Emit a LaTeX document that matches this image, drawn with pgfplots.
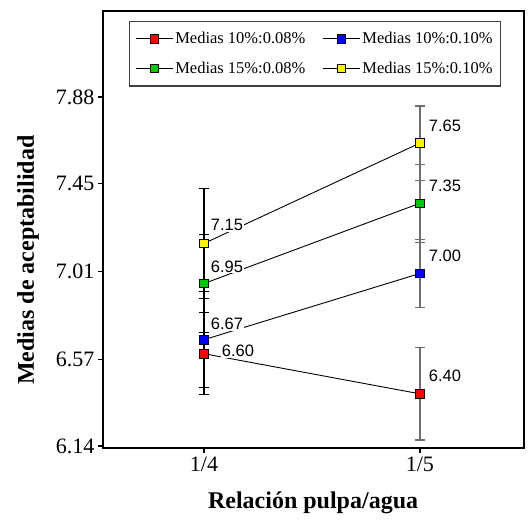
\documentclass[border=0pt]{standalone}
\usepackage{fontspec}
\setmainfont{Liberation Serif}
\newfontfamily\arial{Liberation Sans}
\usepackage{pgfplots}
\usepackage{pgfplotstable}
\pgfplotsset{compat=1.18}
\definecolor{cgreen}{RGB}{0,200,0}
\definecolor{errgray}{RGB}{110,110,110}

% errors at each ratio: x, mean, half-width
\pgfplotstableread{
x y e
0 7.15 0.275
0 6.95 0.245
0 6.67 0.24
0 6.60 0.205
}\errA
\pgfplotstableread{
x y e
1 7.65 0.185
1 7.35 0.195
1 7.00 0.17
1 6.40 0.23
}\errB

\begin{document}
\begin{tikzpicture}
\begin{axis}[
    name=ax,
    scale only axis,
    width=421bp, height=437bp,
    xmin=-0.468, xmax=1.482,
    ymin=6.13, ymax=8.3085,
    xtick={0,1}, xticklabels={1/4,1/5},
    ytick={6.14,6.57,7.01,7.45,7.88},
    yticklabels={6.14,6.57,7.01,7.45,7.88},
    xtick pos=bottom, ytick pos=left,
    tick align=outside,
    major tick length=5bp,
    axis line style={line width=1.8bp},
    every tick/.style={black, line width=1.2bp},
    /pgf/number format/assume math mode=true,
    tick label style={font=\fontsize{22bp}{26bp}\selectfont},
    label style={font=\bfseries\fontsize{24bp}{28bp}\selectfont},
    xlabel={Relación pulpa/agua},
    ylabel={Medias de aceptabilidad},
    xlabel style={at={(axis description cs:0.499,-0.126)}, anchor=center},
    ylabel style={at={(axis description cs:-0.178,0.43)}, anchor=center},
    legend columns=2,
    legend cell align=left,
    legend style={at={(axis description cs:0.061,0.978)}, anchor=north west,
        draw=black!75, line width=1.2bp,
        font=\fontsize{16.5bp}{19bp}\selectfont,
        inner xsep=6bp, inner ysep=9bp,
        row sep=13bp,
        /tikz/every even column/.append style={column sep=15bp}},
    legend image code/.code={\draw[mark repeat=2,mark phase=2, line width=1bp]
        plot coordinates {(0bp,0bp)(18.5bp,0bp)(37bp,0bp)};},
]
\addplot[forget plot, only marks, mark=none,
    error bars/.cd, y dir=both, y explicit,
    error bar style={black, line width=1.3bp},
    error mark options={rotate=90, mark size=5bp, black, line width=1.3bp}]
    table[x=x, y=y, y error=e] {\errA};
\addplot[forget plot, only marks, mark=none,
    error bars/.cd, y dir=both, y explicit,
    error bar style={errgray, line width=1.3bp},
    error mark options={rotate=90, mark size=5bp, errgray, line width=1.3bp}]
    table[x=x, y=y, y error=e] {\errB};

\addplot[black, line width=0.9bp, mark=square*, mark size=4.3bp,
    mark options={fill=red, draw=black, line width=0.9bp}]
    coordinates {(0,6.60) (1,6.40)};
\addlegendentry{Medias 10\%:0.08\%}
\addplot[black, line width=0.9bp, mark=square*, mark size=4.3bp,
    mark options={fill=blue, draw=black, line width=0.9bp}]
    coordinates {(0,6.67) (1,7.00)};
\addlegendentry{Medias 10\%:0.10\%}
\addplot[black, line width=0.9bp, mark=square*, mark size=4.3bp,
    mark options={fill=cgreen, draw=black, line width=0.9bp}]
    coordinates {(0,6.95) (1,7.35)};
\addlegendentry{Medias 15\%:0.08\%}
\addplot[black, line width=0.9bp, mark=square*, mark size=4.3bp,
    mark options={fill=yellow, draw=black, line width=0.9bp}]
    coordinates {(0,7.15) (1,7.65)};
\addlegendentry{Medias 15\%:0.10\%}

\begin{scope}[every node/.style={fill=white, inner sep=1bp,
        font=\arial\fontsize{16.5bp}{19bp}\selectfont}]
\node at (axis cs:0,7.15) [xshift=23bp, yshift=18bp] {7.15};
\node at (axis cs:0,6.95) [xshift=23bp, yshift=17bp] {6.95};
\node at (axis cs:0,6.67) [xshift=23bp, yshift=16bp] {6.67};
\node at (axis cs:0,6.60) [xshift=34bp, yshift=3bp] {6.60};
\node at (axis cs:1,7.65) [xshift=25bp, yshift=17bp] {7.65};
\node at (axis cs:1,7.35) [xshift=25bp, yshift=17bp] {7.35};
\node at (axis cs:1,7.00) [xshift=25bp, yshift=18bp] {7.00};
\node at (axis cs:1,6.40) [xshift=25bp, yshift=18bp] {6.40};
\end{scope}
\end{axis}
\pgfresetboundingbox
\path ([shift={(-103bp,-75bp)}]ax.south west) rectangle ([shift={(4bp,11bp)}]ax.north east);
\end{tikzpicture}
\end{document}
